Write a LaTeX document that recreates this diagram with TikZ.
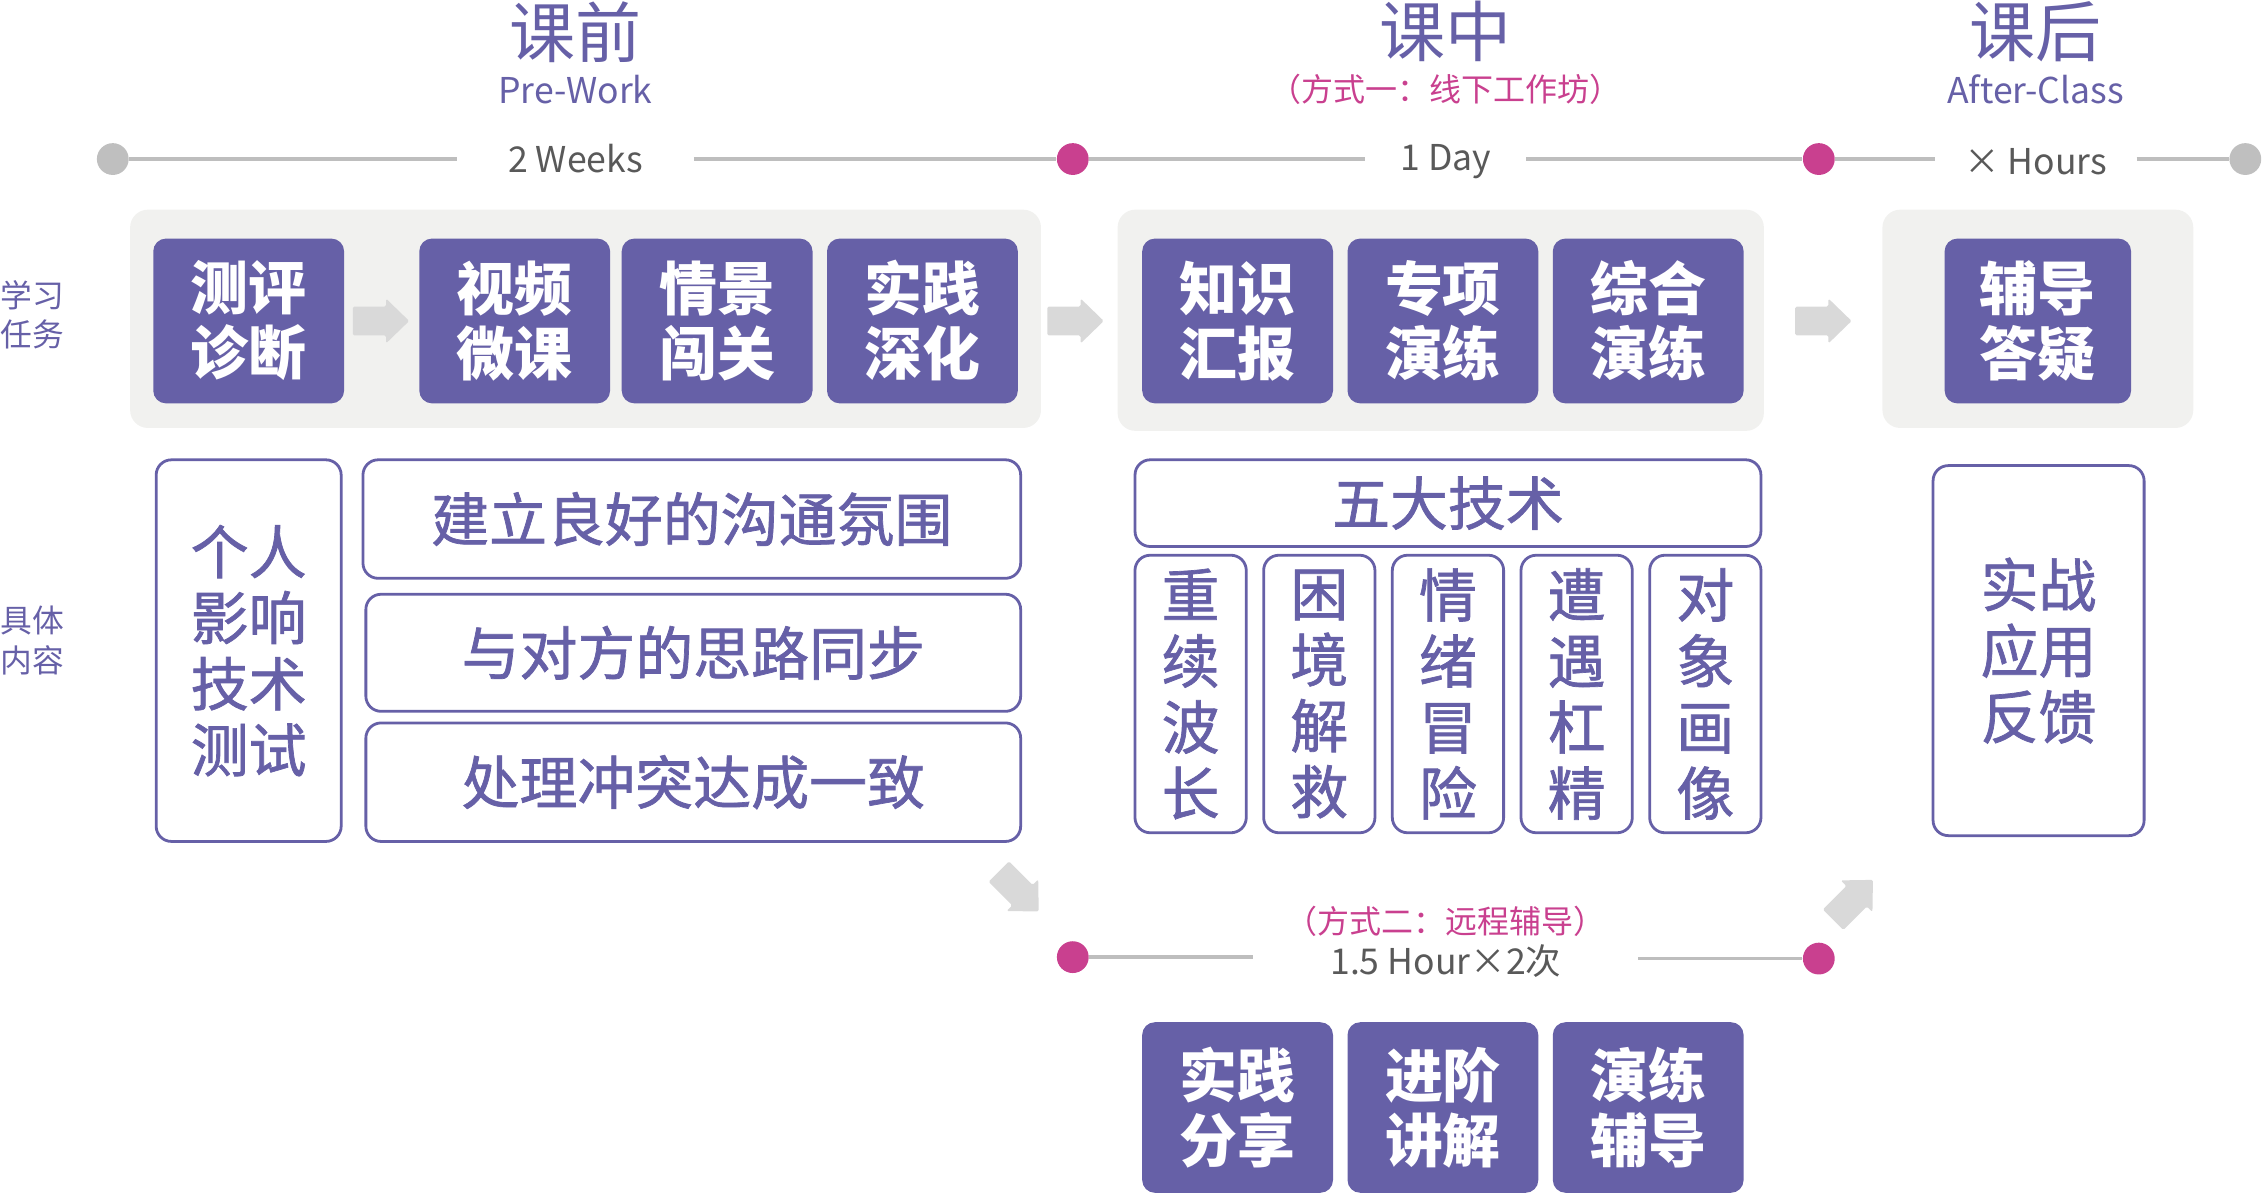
\documentclass[tikz,border=0pt]{standalone}
\usepackage{fontspec}
\setmainfont{Noto Sans CJK SC}
\newfontfamily\medfont{Noto Sans CJK SC}[FakeBold=1.2]
\usetikzlibrary{calc}

\definecolor{purpleMain}{HTML}{6660A7}
\definecolor{pinkMain}{HTML}{C9408F}
\definecolor{dotGray}{HTML}{BFBFBF}
\definecolor{lineGray}{HTML}{BEBEBE}
\definecolor{panelGray}{HTML}{F1F1EF}
\definecolor{arrowGray}{HTML}{D9D9D9}
\definecolor{spanGray}{HTML}{595959}

% gray block arrow: #1 = centre, #2 = angle
\newcommand{\flowArrow}[2]{%
  \fill[arrowGray, rounded corners=0.6pt, shift={#1}, rotate=#2]
    (-20,-10) -- (3,-10) -- (3,-15.5) -- (19,0) -- (3,15.5) -- (3,10) -- (-20,10) -- cycle;}

\begin{document}
\begin{tikzpicture}[x=0.02cm, y=-0.02cm,
    taskbox/.style={rectangle, rounded corners=5pt, fill=purpleMain, text=white,
      font=\bfseries\fontsize{22.8}{25.6}\selectfont, align=center,
      minimum width=2.64cm, minimum height=2.28cm, inner sep=0pt},
    itembox/.style={rectangle, rounded corners=6pt, draw=purpleMain, line width=1.1pt,
      fill=white, text=purpleMain, font=\medfont\fontsize{22.8}{26}\selectfont,
      align=center, inner sep=0pt},
    dotgray/.style={circle, fill=dotGray, minimum size=0.44cm, inner sep=0pt},
    dotpink/.style={circle, fill=pinkMain, minimum size=0.44cm, inner sep=0pt},
    tline/.style={draw=lineGray, line width=1.3pt},
    span/.style={text=spanGray, font=\fontsize{14}{16}\selectfont, inner ysep=0pt},
    title/.style={text=purpleMain, font=\fontsize{26}{28}\selectfont, inner sep=0pt},
    subtitle/.style={text=purpleMain, font=\fontsize{14}{16}\selectfont, inner sep=0pt},
    pinklabel/.style={text=pinkMain, font=\fontsize{12.6}{14}\selectfont, inner sep=0pt},
    side/.style={text=purpleMain, font=\fontsize{12.5}{15.4}\selectfont, align=left, inner sep=0pt}
  ]

    \useasboundingbox (0,0) rectangle (1568,826);

    % Titles
    \node[title] (kq) at (398,22) {课前};
    \node[subtitle] (prework) at (398,62) {Pre-Work};
    \node[title] (kz) at (1000,22) {课中};
    \node[pinklabel] (fs1) at (1000,62) {（方式一：线下工作坊）};
    \node[title] (kh) at (1408,22) {课后};
    \node[subtitle] (afterclass) at (1408,62) {After-Class};

    % Time line
    \node[dotgray] (t0) at (78,110) {};
    \node[dotpink] (t1) at (742,110) {};
    \node[dotpink] (t2) at (1258,110) {};
    \node[dotgray] (t3) at (1553,110) {};
    \node[span, inner xsep=0.7cm] (weeks) at (398,110) {2 Weeks};
    \node[span, inner xsep=0.48cm] (day) at (1000,112) {1 Day};
    \node[span, inner xsep=0.4cm] (hours) at (1408,112) {× Hours};
    \draw[tline] (t0) -- (t0 -| weeks.west);
    \draw[tline] (weeks.east |- t1) -- (t1);
    \draw[tline] (t1) -- (t1 -| day.west);
    \draw[tline] (day.east |- t2) -- (t2);
    \draw[tline] (t2) -- (t2 -| hours.west);
    \draw[tline] (hours.east |- t3) -- (t3);

    % Row labels
    \node[side, anchor=west] (xxrw) at (0,218) {学习\\任务};
    \node[side, anchor=west] (jtnr) at (0,443) {具体\\内容};

    % Panels
    \fill[panelGray, rounded corners=7pt] (90,145) rectangle (720,296);
    \fill[panelGray, rounded corners=7pt] (773,145) rectangle (1220,298);
    \fill[panelGray, rounded corners=7pt] (1302,145) rectangle (1517,296);

    % Learning tasks
    \node[taskbox] (cpzd) at (172,222) {测评\\诊断};
    \node[taskbox] (spwk) at (356,222) {视频\\微课};
    \node[taskbox] (qjcg) at (496,222) {情景\\闯关};
    \node[taskbox] (sjsh) at (638,222) {实践\\深化};
    \node[taskbox] (zshb) at (856,222) {知识\\汇报};
    \node[taskbox] (zxyl) at (998,222) {专项\\演练};
    \node[taskbox] (zhyl) at (1140,222) {综合\\演练};
    \node[taskbox, minimum width=2.58cm] (fddy) at (1409.5,222) {辅导\\答疑};

    \flowArrow{($(cpzd.east)!0.5!(spwk.west)$)}{0}
    \flowArrow{($(sjsh.east)!0.47!(zshb.west)$)}{0}
    \flowArrow{($(zhyl.east)!0.4!(fddy.west)$)}{0}

    % Contents, pre-work
    \node[itembox, minimum width=2.56cm, minimum height=5.28cm] (grcs) at (172,450) {个人\\影响\\技术\\测试};
    \node[itembox, minimum width=9.1cm, minimum height=1.64cm] (jlht) at (478.5,359) {建立良好的沟通氛围};
    \node[itembox, minimum width=9.06cm, minimum height=1.62cm] (tbsl) at (479.5,451.5) {与对方的思路同步};
    \node[itembox, minimum width=9.06cm, minimum height=1.64cm] (clct) at (479.5,541) {处理冲突达成一致};

    % Contents, workshop
    \node[itembox, minimum width=8.66cm, minimum height=1.2cm] (wdjs) at (1001.5,348) {五大技术};
    \foreach \name/\x/\txt in {cxbc/823.5/{重\\续\\波\\长}, kjjj/912.5/{困\\境\\解\\救},
        qxmx/1001.5/{情\\绪\\冒\\险}, zygj/1090.5/{遭\\遇\\杠\\精}, dxhx/1179.5/{对\\象\\画\\像}}
      \node[itembox, minimum width=1.54cm, minimum height=3.84cm] (\name) at (\x,480) {\txt};

    % Contents, after class
    \node[itembox, minimum width=2.92cm, minimum height=5.12cm] (szyy) at (1410,450) {实战\\应用\\反馈};

    % Remote coaching
    \flowArrow{(705,617)}{-45}
    \flowArrow{(1282,622)}{45}
    \node[pinklabel] (fs2) at (1000,637) {（方式二：远程辅导）};
    \node[dotpink] (r0) at (742,662) {};
    \node[dotpink] (r1) at (1258,663) {};
    \node[span, inner xsep=1.06cm] (hour) at (1000,665) {1.5 Hour×2次};
    \draw[tline] (r0) -- (r0 -| hour.west);
    \draw[tline] (hour.east |- r1) -- (r1);

    \node[taskbox, minimum height=2.36cm] (sjfx) at (856,766) {实践\\分享};
    \node[taskbox, minimum height=2.36cm] (jjjj) at (998,766) {进阶\\讲解};
    \node[taskbox, minimum height=2.36cm] (ylfd) at (1140,766) {演练\\辅导};

\end{tikzpicture}
\end{document}
